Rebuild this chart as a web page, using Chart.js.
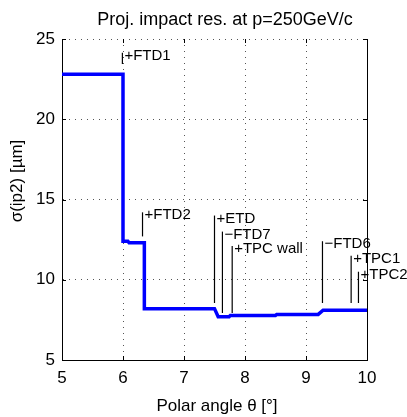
<!DOCTYPE html>
<html>
<head>
<meta charset="utf-8">
<script src="https://cdn.jsdelivr.net/npm/chart.js@4"></script>
<style>
  body { margin: 0; background: #fff; }
  #wrap { width: 407px; height: 417px; position: relative; }
</style>
</head>
<body>
<div id="wrap"><canvas id="resChart"></canvas></div>
<script>
// Шаговая кривая разрешения (угол в градусах, сигма в мкм)
const theta = [5.0, 6.0, 6.0, 6.08, 6.1, 6.35, 6.35, 7.5, 7.56, 7.74, 7.76, 8.5, 8.52, 9.2, 9.28, 10.0];
const sigma = [22.8, 22.8, 12.4, 12.4, 12.3, 12.3, 8.2, 8.2, 7.7, 7.7, 7.78, 7.78, 7.84, 7.84, 8.1, 8.1];

// Подписи детекторов
const annLabels = ['+FTD1', '+FTD2', '+ETD', '\u2212FTD7', '+TPC wall', '\u2212FTD6', '+TPC1', '+TPC2'];
const annTheta = [5.99, 6.32, 7.50, 7.63, 7.79, 9.27, 9.74, 9.86];
const annTop = [24.15, 14.2, 14.0, 13.0, 12.1, 12.4, 11.5, 10.5];
const annBottom = [23.45, 12.7, 8.55, 7.93, 7.93, 8.55, 8.55, 8.55];

const xTicks = [5, 6, 7, 8, 9, 10];
const yTicks = [5, 10, 15, 20, 25];

const FONT = '"Liberation Sans", Arial, sans-serif';

const framePlugin = {
    id: 'frame',
    afterDraw(chart) {
        const ctx = chart.ctx;
        const a = chart.chartArea;
        const xs = chart.scales.x, ys = chart.scales.y;
        ctx.save();
        ctx.strokeStyle = '#000';
        ctx.lineWidth = 1;
        // правая рамка
        ctx.beginPath();
        ctx.moveTo(Math.round(a.right) + 0.5, a.top);
        ctx.lineTo(Math.round(a.right) + 0.5, a.bottom);
        ctx.stroke();
        // внутренние засечки
        ctx.beginPath();
        xTicks.forEach(v => {
            const px = Math.round(xs.getPixelForValue(v)) + 0.5;
            ctx.moveTo(px, a.bottom); ctx.lineTo(px, a.bottom - 4);
            ctx.moveTo(px, a.top); ctx.lineTo(px, a.top + 4);
        });
        yTicks.forEach(v => {
            const py = Math.round(ys.getPixelForValue(v)) + 0.5;
            ctx.moveTo(a.left, py); ctx.lineTo(a.left + 4, py);
            ctx.moveTo(a.right, py); ctx.lineTo(a.right - 4, py);
        });
        ctx.stroke();

        // линии и подписи детекторов
        ctx.lineWidth = 1.2;
        ctx.font = '15px ' + FONT;
        ctx.fillStyle = '#000';
        ctx.textBaseline = 'middle';
        ctx.textAlign = 'left';
        annLabels.forEach((lab, i) => {
            const px = xs.getPixelForValue(annTheta[i]);
            const y1 = ys.getPixelForValue(annTop[i]);
            const y2 = ys.getPixelForValue(annBottom[i]);
            ctx.beginPath();
            ctx.moveTo(px, y1); ctx.lineTo(px, y2);
            ctx.stroke();
            ctx.fillText(lab, px + 2, y1 + 3);
        });

        // заголовок и подписи осей
        ctx.textAlign = 'center';
        ctx.font = '18px ' + FONT;
        ctx.fillText('Proj. impact res. at p=250GeV/c', 225, 20);
        ctx.font = '17px ' + FONT;
        ctx.fillText('Polar angle \u03b8 [\u00b0]', 217, 406);
        ctx.translate(17, 181);
        ctx.rotate(-Math.PI / 2);
        ctx.fillText('\u03c3(ip2) [\u00b5m]', 0, 0);
        ctx.restore();
    }
};

const ctx = document.getElementById('resChart').getContext('2d');
new Chart(ctx, {
    type: 'line',
    data: {
        datasets: [{
            data: theta.map((t, i) => ({ x: t, y: sigma[i] })),
            borderColor: '#0000ff',
            borderWidth: 3.5,
            pointRadius: 0,
            fill: false,
            tension: 0
        }]
    },
    options: {
        responsive: true,
        maintainAspectRatio: false,
        animation: false,
        layout: { padding: { top: 39, right: 40, left: 0, bottom: 0 } },
        plugins: {
            legend: { display: false },
            tooltip: { enabled: false }
        },
        scales: {
            x: {
                type: 'linear',
                min: 5,
                max: 10,
                afterBuildTicks: s => { s.ticks = xTicks.map(v => ({ value: v })); },
                afterFit: s => { s.height = 57; },
                grid: { color: '#555', lineWidth: 1, drawTicks: false },
                border: { display: true, color: '#000', width: 1, dash: [1, 5] },
                ticks: { color: '#000', padding: 8, font: { family: FONT, size: 17 } }
            },
            y: {
                min: 5,
                max: 25,
                afterBuildTicks: s => { s.ticks = yTicks.map(v => ({ value: v })); },
                afterFit: s => { s.width = 62; },
                grid: { color: '#555', lineWidth: 1, drawTicks: false },
                border: { display: true, color: '#000', width: 1, dash: [1, 5] },
                ticks: { color: '#000', padding: 7, font: { family: FONT, size: 17 } }
            }
        }
    },
    plugins: [framePlugin]
});
</script>
</body>
</html>
